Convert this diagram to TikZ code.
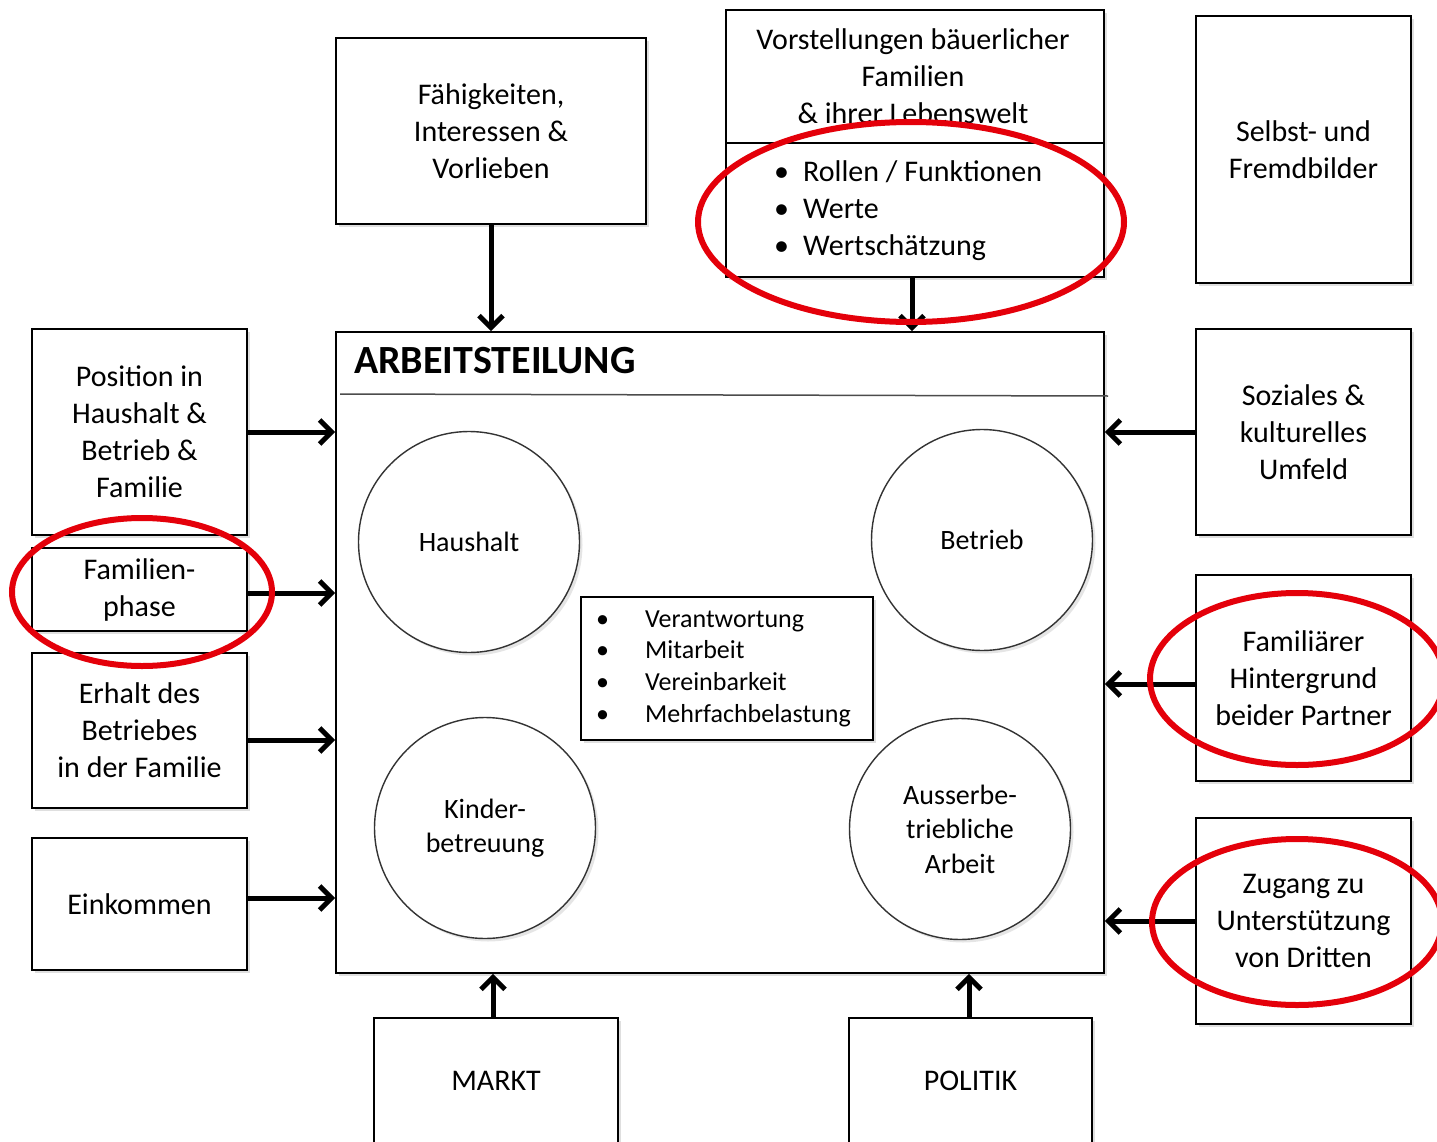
\documentclass[tikz,border=0pt]{standalone}
\usepackage{fontspec}
\setmainfont{Carlito}
\usetikzlibrary{arrows.meta,shadows}
\definecolor{ringred}{RGB}{228,0,10}
\begin{document}
\begin{tikzpicture}[x=1pt,y=-1pt,
  box/.style={draw, line width=1.6pt, fill=white, inner sep=0pt, align=center,
    font=\fontsize{30}{37}\selectfont,
    drop shadow={opacity=0.25, shadow xshift=3pt, shadow yshift=-3pt}},
  circ/.style={circle, draw=black!80, line width=1.4pt, fill=white, minimum size=221pt,
    inner sep=0pt, align=center, font=\fontsize{28}{34.5}\selectfont,
    drop shadow={opacity=0.2, shadow xshift=3pt, shadow yshift=-3pt}},
  plain/.style={inner sep=0pt, align=center, font=\fontsize{30}{37}\selectfont},
  arr/.style={line width=5pt, -{Straight Barb[length=12pt,width=24pt,line width=5pt]}},
  redring/.style={draw=ringred, line width=6pt}
]
\useasboundingbox (0,0) rectangle (1437,1142);

% main box
\node[box, minimum width=768pt, minimum height=641pt] (main) at (720,652.5) {};
\node[anchor=west, inner sep=0pt, font=\fontsize{40}{46}\selectfont\bfseries] (title) at (354,361) {ARBEITSTEILUNG};
\draw[line width=1.5pt, black!70] (340,394) -- (1108,396);

% circles
\node[circ] (haus) at (469,542) {Haushalt};
\node[circ] (betr) at (982,540) {Betrieb};
\node[circ] (kind) at (485,828) {Kinder-\\betreuung};
\node[circ] (auss) at (960,829) {Ausserbe-\\triebliche\\Arbeit};

% inner list
\node[box, minimum width=292pt, minimum height=143pt, drop shadow={opacity=0}] (list) at (727,668.5) {};
\node[anchor=west, inner sep=0pt, align=left, font=\fontsize{26}{31.7}\selectfont] (listtxt) at (596,668.5)
  {\makebox[49pt][l]{\textbullet}Verantwortung\\
   \makebox[49pt][l]{\textbullet}Mitarbeit\\
   \makebox[49pt][l]{\textbullet}Vereinbarkeit\\
   \makebox[49pt][l]{\textbullet}Mehrfachbelastung};

% top boxes
\node[box, minimum width=310pt, minimum height=186pt] (fae) at (491,131) {Fähigkeiten,\\Interessen \&\\Vorlieben};
\node[box, minimum width=378pt, minimum height=267pt] (vor) at (915,143.5) {};
\draw[line width=1.6pt] (vor.west |- 0,143) -- (vor.east |- 0,143);
\node[plain] (vortitle) at (913,76) {Vorstellungen bäuerlicher\\Familien\\\& ihrer Lebenswelt};
\node[plain, anchor=west, align=left] (vorlist) at (774,211)
  {\makebox[29pt][l]{\textbullet}Rollen / Funktionen\\
   \makebox[29pt][l]{\textbullet}Werte\\
   \makebox[29pt][l]{\textbullet}Wertschätzung};
\node[box, minimum width=215pt, minimum height=267pt] (selbst) at (1303.5,149.5) {Selbst- und\\Fremdbilder};

% left boxes
\node[box, minimum width=215pt, minimum height=206pt] (pos) at (139.5,432) {Position in\\Haushalt \&\\Betrieb \&\\Familie};
\node[box, minimum width=215pt, minimum height=83pt] (fam) at (139.5,589.5) {Familien-\\phase};
\node[box, minimum width=215pt, minimum height=155pt] (erh) at (139.5,730.5) {Erhalt des\\Betriebes\\in der Familie};
\node[box, minimum width=215pt, minimum height=132pt] (ein) at (139.5,904) {Einkommen};

% right boxes
\node[box, minimum width=215pt, minimum height=206pt] (soz) at (1303.5,432) {Soziales \&\\kulturelles\\Umfeld};
\node[box, minimum width=215pt, minimum height=206pt] (fhin) at (1303.5,678) {Familiärer\\Hintergrund\\beider Partner};
\node[box, minimum width=215pt, minimum height=206pt] (zug) at (1303.5,921) {Zugang zu\\Unterstützung\\von Dritten};

% bottom boxes
\node[box, minimum width=244pt, minimum height=126pt] (markt) at (496,1081) {MARKT};
\node[box, minimum width=243pt, minimum height=126pt] (pol) at (970.5,1081) {POLITIK};

% arrows
\draw[arr] (fae.south) -- (fae.south |- main.north);
\draw[arr] ([xshift=-3pt]vor.south) -- ([xshift=-3pt]vor.south |- main.north);
\draw[arr] (pos.east) -- (pos.east -| main.west);
\draw[arr] ([yshift=-3.5pt]fam.east) -- ([yshift=-3.5pt]fam.east -| main.west);
\draw[arr] ([yshift=-9.5pt]erh.east) -- ([yshift=-9.5pt]erh.east -| main.west);
\draw[arr] ([yshift=6pt]ein.east) -- ([yshift=6pt]ein.east -| main.west);
\draw[arr] (soz.west) -- (soz.west -| main.east);
\draw[arr] ([yshift=-6pt]fhin.west) -- ([yshift=-6pt]fhin.west -| main.east);
\draw[arr] (zug.west) -- (zug.west -| main.east);
\draw[arr] ([xshift=-3pt]markt.north) -- ([xshift=-3pt]markt.north |- main.south);
\draw[arr] ([xshift=-1.5pt]pol.north) -- ([xshift=-1.5pt]pol.north |- main.south);

% red rings
\draw[redring] (911,222) ellipse [x radius=213pt, y radius=100pt];
\draw[redring] (142,592) ellipse [x radius=130pt, y radius=74pt];
\draw[redring] (1297,679) ellipse [x radius=147pt, y radius=86pt];
\draw[redring] (1297,922) ellipse [x radius=145pt, y radius=83pt];
\end{tikzpicture}
\end{document}
